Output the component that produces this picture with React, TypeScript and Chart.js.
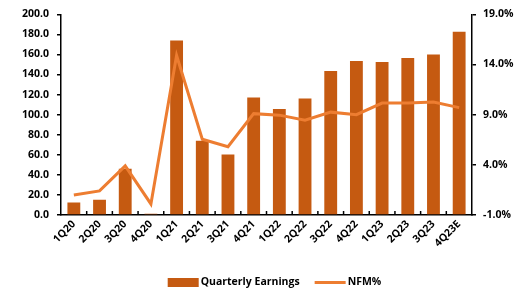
import React, { useEffect, useRef } from "react";
import { Chart, registerables } from "chart.js";

Chart.register(...registerables);

const categories = ["1Q20", "2Q20", "3Q20", "4Q20", "1Q21", "2Q21", "3Q21", "4Q21", "1Q22", "2Q22", "3Q22", "4Q22", "1Q23", "2Q23", "3Q23", "4Q23E"];
const quarterlyEarnings = [12.5, 15.1, 46, 1.3, 174, 74, 60.4, 117, 105.7, 116, 143.5, 153.4, 152.4, 156.4, 160, 182.5];
const nfmPct = [1.0, 1.4, 3.9, 0.1, 14.9, 6.55, 5.8, 9.1, 8.95, 8.45, 9.25, 9.0, 10.15, 10.15, 10.25, 9.7];
const leftTicks = { min: 0, max: 200, step: 20 };
const rightTicks = { min: -1, max: 19, step: 5 };

const FONT = "'Open Sans', 'Liberation Sans', sans-serif";
const FSIZE = 10.5;

const innerTicks = {
  id: "innerTicks",
  afterDatasetsDraw(chart: any) {
    const x = chart.scales.x;
    const area = chart.chartArea;
    const ctx = chart.ctx;
    ctx.save();
    ctx.strokeStyle = "#000";
    ctx.lineWidth = 1.5;
    for (let i = 0; i < categories.length - 1; i++) {
      const px = (x.getPixelForValue(i) + x.getPixelForValue(i + 1)) / 2;
      ctx.beginPath();
      ctx.moveTo(px, area.bottom);
      ctx.lineTo(px, area.bottom - 4);
      ctx.stroke();
    }
    ctx.restore();
  },
};

// Custom legend drawn below the x-axis labels, centred on the plot area.
const customLegend = {
  id: "customLegend",
  afterDraw(chart: any) {
    const ctx = chart.ctx;
    const area = chart.chartArea;
    const items = [...chart.data.datasets].reverse();
    const swatchW = 31;
    const gapText = 2;
    const gapItem = 15;
    ctx.save();
    ctx.font = `bold ${FSIZE}px ${FONT}`;
    const widths = items.map((d: any) => swatchW + gapText + ctx.measureText(d.label).width);
    const total = widths.reduce((a: number, b: number) => a + b, 0) + gapItem * (items.length - 1);
    const cx = (area.left + area.right) / 2 + 8;
    let x = cx - total / 2;
    const y = chart.height - 8.5;
    items.forEach((d: any, i: number) => {
      if (d.type === "line") {
        ctx.strokeStyle = d.borderColor;
        ctx.lineWidth = 3;
        ctx.beginPath();
        ctx.moveTo(x, y);
        ctx.lineTo(x + swatchW, y);
        ctx.stroke();
      } else {
        ctx.fillStyle = d.backgroundColor;
        ctx.fillRect(x, y - 4.5, swatchW, 9);
      }
      ctx.fillStyle = "#000";
      ctx.textBaseline = "middle";
      ctx.textAlign = "left";
      ctx.fillText(d.label, x + swatchW + gapText, y);
      x += widths[i] + gapItem;
    });
    ctx.restore();
  },
};

export default function App() {
  const ref = useRef<HTMLCanvasElement>(null);
  useEffect(() => {
    if (!ref.current) return;
    const chart = new Chart(ref.current, {
      type: "bar",
      data: {
        labels: categories,
        datasets: [
          {
            type: "line",
            label: "NFM%",
            data: nfmPct,
            yAxisID: "y1",
            borderColor: "#ED7D31",
            backgroundColor: "#ED7D31",
            borderWidth: 3,
            pointRadius: 0,
            tension: 0,
            order: 0,
          } as any,
          {
            type: "bar",
            label: "Quarterly Earnings",
            data: quarterlyEarnings,
            yAxisID: "y",
            backgroundColor: "#C55A11",
            borderWidth: 0,
            barPercentage: 0.5,
            categoryPercentage: 1,
            order: 1,
          } as any,
        ],
      },
      options: {
        animation: false,
        responsive: true,
        maintainAspectRatio: false,
        layout: { padding: { top: 12, bottom: 17, left: 0, right: 0 } },
        plugins: {
          tooltip: { enabled: false },
          legend: { display: false },
        },
        scales: {
          x: {
            grid: { display: false, drawTicks: false },
            border: { color: "#000", width: 1.5 },
            ticks: {
              minRotation: 45,
              maxRotation: 45,
              color: "#000",
              padding: 3,
              font: { family: FONT, size: FSIZE, weight: "bold" },
            },
            afterFit: (s: any) => { s.height = 59; },
          },
          y: {
            position: "left",
            min: leftTicks.min,
            max: leftTicks.max,
            grid: { drawOnChartArea: false, drawTicks: true, tickLength: 4, color: "#000", lineWidth: 1.5 },
            border: { color: "#000", width: 1.5 },
            ticks: {
              stepSize: leftTicks.step,
              color: "#000",
              padding: 8,
              font: { family: FONT, size: FSIZE, weight: "bold" },
              callback: (v: any) => Number(v).toFixed(1),
            },
            afterFit: (s: any) => { s.width = 61; },
          },
          y1: {
            position: "right",
            min: rightTicks.min,
            max: rightTicks.max,
            grid: { drawOnChartArea: false, drawTicks: true, tickLength: 4, color: "#000", lineWidth: 1.5 },
            border: { color: "#000", width: 1.5 },
            ticks: {
              stepSize: rightTicks.step,
              color: "#000",
              padding: 7,
              font: { family: FONT, size: FSIZE, weight: "bold" },
              callback: (v: any) => Number(v).toFixed(1) + "%",
            },
            afterFit: (s: any) => { s.width = 47; },
          },
        },
      },
      plugins: [innerTicks, customLegend],
    });
    return () => chart.destroy();
  }, []);
  return (
    <div style={{ position: "fixed", left: 0, top: 0, width: 519, height: 291, background: "#fff" }}>
      <canvas ref={ref} />
    </div>
  );
}
